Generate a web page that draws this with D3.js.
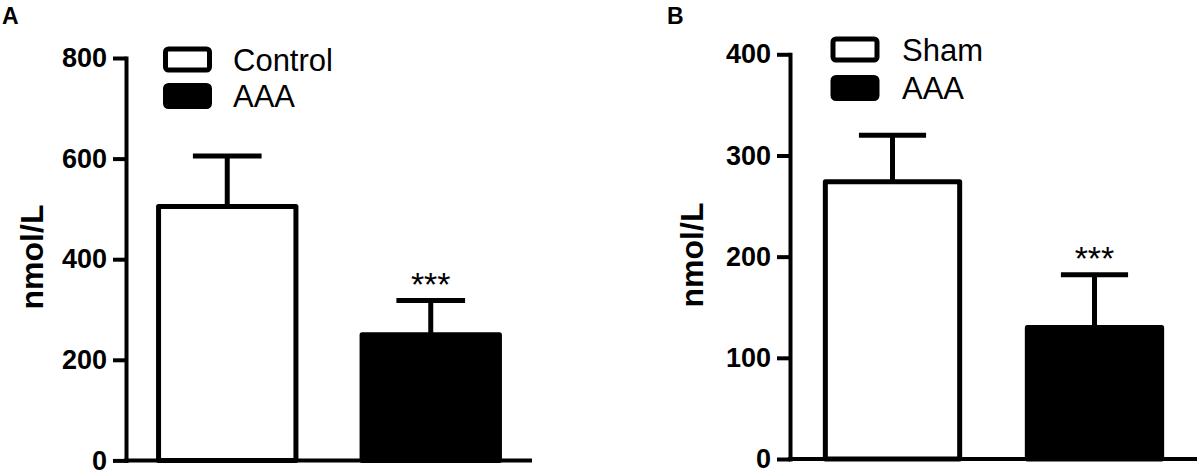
<!DOCTYPE html>
<html>
<head>
<meta charset="utf-8">
<script src="https://cdn.jsdelivr.net/npm/d3@7"></script>
<style>
  html, body { margin: 0; padding: 0; background: #fff; }
  svg { display: block; }
</style>
</head>
<body>
<svg id="chart" width="1199" height="472"></svg>
<script>
// ---- Data ----
const panelLetters = ["A", "B"];
const yLabel = "nmol/L";

const panelA_categories = ["Control", "AAA"];
const panelA_means = [505, 250];
const panelA_sem = [100, 68];
const panelA_ticks = [0, 200, 400, 600, 800];
const panelA_sig = ["", "***"];

const panelB_categories = ["Sham", "AAA"];
const panelB_means = [274, 130];
const panelB_sem = [46, 52];
const panelB_ticks = [0, 100, 200, 300, 400];
const panelB_sig = ["", "***"];

const fills = ["#ffffff", "#000000"];

// ---- Layout ----
const panels = [
  {
    letter: panelLetters[0], cats: panelA_categories, means: panelA_means, sem: panelA_sem,
    ticks: panelA_ticks, sig: panelA_sig,
    axisX: 126, xEnd: 532, y0: 460.4, yTop: 58, pi: 0.325, po: 0.16,
    legX: 165.5, legRows: [59.5, 96], legTextX: 233,
    yLabX: 43, yLabY: 257, letterX: 2
  },
  {
    letter: panelLetters[1], cats: panelB_categories, means: panelB_means, sem: panelB_sem,
    ticks: panelB_ticks, sig: panelB_sig,
    axisX: 790, xEnd: 1197, y0: 459, yTop: 54.3, pi: 0.335, po: 0.175,
    legX: 833, legRows: [49.5, 88], legTextX: 902,
    yLabX: 703, yLabY: 255, letterX: 667
  }
];

const svg = d3.select("#chart");
svg.append("rect").attr("width", 1199).attr("height", 472).attr("fill", "#fff");

const FONT = "'Liberation Sans', Arial, Helvetica, sans-serif";

panels.forEach(p => {
  const g = svg.append("g");
  const y = d3.scaleLinear().domain([0, d3.max(p.ticks)]).range([p.y0, p.yTop]);
  const x = d3.scaleBand().domain(p.cats).range([p.axisX, p.xEnd])
    .paddingInner(p.pi).paddingOuter(p.po);

  // bars
  p.cats.forEach((c, i) => {
    const bx = x(c), bw = x.bandwidth();
    const top = y(p.means[i]);
    const errTop = y(p.means[i] + p.sem[i]);
    const cx = bx + bw / 2;
    // error stem + cap
    g.append("line").attr("x1", cx).attr("x2", cx).attr("y1", top).attr("y2", errTop)
      .attr("stroke", "#000").attr("stroke-width", 5);
    g.append("line").attr("x1", cx - bw / 4).attr("x2", cx + bw / 4)
      .attr("y1", errTop).attr("y2", errTop)
      .attr("stroke", "#000").attr("stroke-width", 5);
    g.append("rect").attr("x", bx).attr("y", top).attr("width", bw)
      .attr("height", y(0) - top)
      .attr("fill", fills[i]).attr("stroke", "#000").attr("stroke-width", 5)
      .attr("stroke-linejoin", "round");
    if (p.sig[i]) {
      g.append("text").attr("x", cx).attr("y", errTop - 4.5)
        .attr("text-anchor", "middle")
        .style("font-family", FONT).style("font-size", "34px")
        .text(p.sig[i]);
    }
  });

  // x axis (baseline)
  const xAxis = g.append("g").attr("transform", `translate(0,${p.y0})`)
    .call(d3.axisBottom(x).tickSize(0).tickFormat(""));
  xAxis.select(".domain").attr("stroke", "#000").attr("stroke-width", 4)
    .attr("d", `M${p.axisX - 2},0H${p.xEnd}`);
  xAxis.selectAll(".tick").remove();

  // y axis
  const yAxis = g.append("g").attr("transform", `translate(${p.axisX},0)`)
    .call(d3.axisLeft(y).tickValues(p.ticks).tickSizeOuter(0).tickSizeInner(13).tickPadding(6));
  yAxis.select(".domain").attr("stroke", "#000").attr("stroke-width", 4)
    .attr("stroke-linecap", "square");
  yAxis.selectAll(".tick line").attr("stroke", "#000").attr("stroke-width", 4);
  yAxis.selectAll(".tick text")
    .attr("fill", "#000")
    .style("font-family", FONT).style("font-size", "27px").style("font-weight", "bold");

  // y label
  g.append("text")
    .attr("transform", `translate(${p.yLabX},${p.yLabY}) rotate(-90)`)
    .attr("text-anchor", "middle")
    .style("font-family", FONT).style("font-size", "32px").style("font-weight", "bold")
    .text(yLabel);

  // panel letter
  g.append("text").attr("x", p.letterX).attr("y", 24)
    .style("font-family", FONT).style("font-size", "23px").style("font-weight", "bold")
    .text(p.letter);

  // legend
  p.cats.forEach((c, i) => {
    const cy = p.legRows[i];
    g.append("rect").attr("x", p.legX).attr("y", cy - 10.5).attr("width", 44).attr("height", 21)
      .attr("rx", 3).attr("fill", fills[i]).attr("stroke", "#000").attr("stroke-width", 5);
    g.append("text").attr("x", p.legTextX).attr("y", cy + 11)
      .style("font-family", FONT).style("font-size", "31px")
      .text(c);
  });
});
</script>
</body>
</html>
